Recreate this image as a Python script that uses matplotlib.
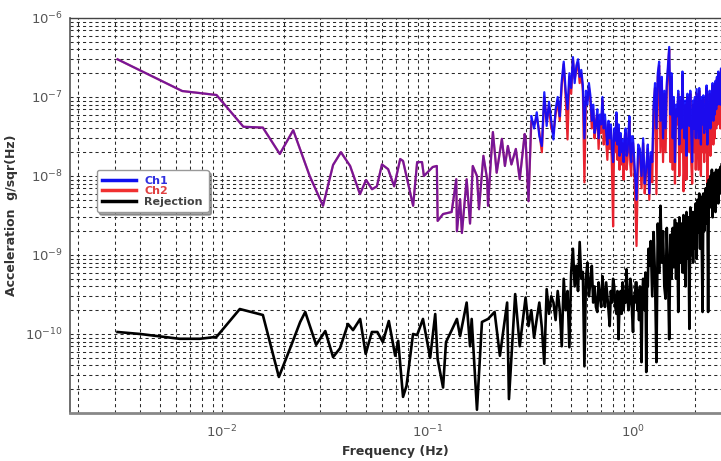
import numpy as np
import matplotlib
matplotlib.use("Agg")
import matplotlib.pyplot as plt
from matplotlib.lines import Line2D
from matplotlib.ticker import LogLocator, NullFormatter

plt.rcParams['mathtext.default'] = 'regular'

# ---- data ----
# Ch1 / Ch2 : low frequency part (both channels coincide)
f_ch_low = [0.0031, 0.0064, 0.0094, 0.0127, 0.0158, 0.0191, 0.0222, 0.0267, 0.0310,
            0.0347, 0.0379, 0.0420, 0.0469, 0.0502, 0.0537, 0.0567, 0.0600, 0.0643,
            0.0688, 0.0736, 0.0760, 0.0851, 0.0890, 0.0940, 0.0960, 0.1060, 0.1110,
            0.1120, 0.1190, 0.1310, 0.1380, 0.1390, 0.1440, 0.1470, 0.1550, 0.1610,
            0.1660, 0.1740, 0.1780, 0.1870, 0.1950, 0.1970, 0.2040, 0.2080, 0.2170,
            0.2300, 0.2380, 0.2460, 0.2560, 0.2690, 0.2810, 0.2970, 0.3000, 0.3100]
ch_low = [3.0e-7, 1.19e-7, 1.06e-7, 4.2e-8, 4.1e-8, 1.9e-8, 3.8e-8, 1.0e-8, 4.2e-9,
          1.38e-8, 2.0e-8, 1.34e-8, 5.9e-9, 8.9e-9, 6.8e-9, 7.4e-9, 1.4e-8, 1.22e-8,
          7.4e-9, 1.64e-8, 1.55e-8, 4.2e-9, 1.5e-8, 1.5e-8, 1.0e-8, 1.3e-8, 1.34e-8,
          2.7e-9, 3.3e-9, 3.5e-9, 9.1e-9, 2.0e-9, 5.1e-9, 1.9e-9, 9.1e-9, 2.5e-9,
          1.34e-8, 1.0e-8, 3.8e-9, 1.8e-8, 9.1e-9, 4.2e-9, 1.8e-8, 3.6e-8, 1.1e-8,
          2.95e-8, 1.34e-8, 2.4e-8, 1.4e-8, 2.2e-8, 9.1e-9, 3.4e-8, 2.95e-8, 4.8e-9]

# high frequency part (dense, channels differ)
f_ch_high = [0.32, 0.33, 0.34, 0.35, 0.36, 0.37, 0.38, 0.39, 0.40, 0.41,
             0.42, 0.43, 0.44, 0.45, 0.46, 0.47, 0.48, 0.49, 0.50, 0.51,
             0.52, 0.53, 0.54, 0.55, 0.56, 0.57, 0.58, 0.59, 0.60, 0.61,
             0.62, 0.63, 0.64, 0.65, 0.66, 0.67, 0.68, 0.69, 0.70, 0.71,
             0.72, 0.73, 0.74, 0.75, 0.76, 0.77, 0.78, 0.79, 0.80, 0.81,
             0.82, 0.83, 0.84, 0.85, 0.86, 0.87, 0.88, 0.89, 0.90, 0.91,
             0.92, 0.93, 0.94, 0.95, 0.96, 0.97, 0.98, 0.99,
             1.00, 1.02, 1.04, 1.06, 1.08, 1.10, 1.12, 1.14, 1.16, 1.18,
             1.20, 1.22, 1.24, 1.26, 1.28, 1.30, 1.32, 1.34, 1.36, 1.38,
             1.40, 1.42, 1.44, 1.46, 1.48, 1.50, 1.52, 1.54, 1.56, 1.58,
             1.60, 1.62, 1.64, 1.66, 1.68, 1.70, 1.72, 1.74, 1.76, 1.78,
             1.80, 1.82, 1.84, 1.86, 1.88, 1.90, 1.92, 1.94, 1.96, 1.98,
             2.00, 2.02, 2.04, 2.06, 2.08, 2.10, 2.12, 2.14, 2.16, 2.18,
             2.20, 2.22, 2.24, 2.26, 2.28, 2.30, 2.32, 2.34, 2.36, 2.38,
             2.40, 2.42, 2.44, 2.46, 2.48, 2.50, 2.52, 2.54, 2.56, 2.58,
             2.60, 2.62, 2.64, 2.66, 2.68, 2.70]
ch1_high = [5.7e-8, 4.0e-8, 6.4e-8, 3.2e-8, 2.4e-8, 1.15e-7, 4.3e-8, 8.7e-8, 5.0e-8, 2.9e-8,
            7.0e-8, 1.0e-7, 5.7e-8, 1.6e-7, 2.8e-7, 1.2e-7, 7.0e-8, 2.0e-7, 1.3e-7, 3.2e-7,
            1.5e-7, 2.5e-7, 3.0e-7, 1.8e-7, 2.2e-7, 1.4e-7, 3.0e-8, 1.2e-7, 8.0e-8, 1.5e-7,
            1.05e-7, 5.0e-8, 8.0e-8, 3.5e-8, 4.3e-8, 7.0e-8, 3.0e-8, 6.0e-8, 4.5e-8, 1.0e-7,
            4.0e-8, 6.0e-8, 3.6e-8, 2.5e-8, 5.0e-8, 3.0e-8, 4.5e-8, 2.2e-8, 1.5e-8, 4.0e-8,
            2.8e-8, 6.4e-8, 2.5e-8, 4.5e-8, 1.8e-8, 3.5e-8, 2.0e-8, 2.9e-8, 1.5e-8, 3.0e-8,
            4.0e-8, 1.8e-8, 2.0e-8, 3.5e-8, 5.7e-8, 2.0e-8, 1.5e-8, 3.2e-8,
            3.0e-8, 1.2e-8, 5.0e-9, 2.5e-8, 2.2e-8, 1.0e-8, 3.0e-8, 8.0e-9, 1.3e-8, 2.5e-8,
            6.0e-9, 2.0e-8, 1.5e-8, 8.0e-8, 1.5e-7, 4.0e-8, 2.0e-7, 2.8e-7, 5.0e-8, 1.8e-7,
            3.0e-8, 1.2e-7, 4.0e-8, 1.5e-7, 2.5e-7, 4.3e-7, 6.0e-8, 2.0e-7, 3.0e-8, 1.0e-7,
            1.5e-8, 8.0e-8, 5.7e-8, 1.2e-7, 2.5e-8, 1.0e-7, 4.0e-8, 2.1e-7, 6.0e-8, 3.0e-8,
            9.0e-8, 1.8e-8, 1.1e-7, 5.0e-8, 4.3e-8, 1.2e-7, 3.5e-8, 1.5e-8, 9.0e-8, 4.0e-8,
            1.0e-7, 3.0e-8, 1.26e-7, 6.0e-8, 3.0e-8, 1.3e-7, 5.0e-8, 2.5e-8, 1.0e-7, 4.5e-8,
            1.05e-7, 3.5e-8, 8.0e-8, 4.0e-8, 1.4e-7, 2.5e-8, 9.0e-8, 5.0e-8, 1.2e-7, 4.0e-8,
            1.1e-7, 6.0e-8, 1.5e-7, 5.0e-8, 1.3e-7, 6.0e-8, 1.6e-7, 7.0e-8, 1.8e-7, 8.0e-8,
            2.1e-7, 9.0e-8, 2.0e-7, 8.0e-8, 2.3e-7, 1.5e-7]
ch2_high = [5.0e-8, 4.5e-8, 5.5e-8, 3.6e-8, 2.0e-8, 1.0e-7, 5.0e-8, 7.5e-8, 4.0e-8, 3.5e-8,
            6.0e-8, 9.0e-8, 5.0e-8, 1.4e-7, 2.6e-7, 1.0e-7, 2.9e-8, 1.8e-7, 1.1e-7, 3.0e-7,
            1.7e-7, 2.2e-7, 2.7e-7, 1.5e-7, 2.0e-7, 1.2e-7, 8.3e-9, 1.0e-7, 9.0e-8, 1.3e-7,
            9.0e-8, 4.0e-8, 7.0e-8, 3.0e-8, 5.0e-8, 6.0e-8, 2.2e-8, 5.0e-8, 3.5e-8, 9.0e-8,
            2.5e-8, 5.0e-8, 2.8e-8, 1.6e-8, 4.5e-8, 2.2e-8, 4.0e-8, 1.2e-8, 2.3e-9, 3.5e-8,
            2.0e-8, 6.0e-8, 1.6e-8, 4.0e-8, 1.2e-8, 3.2e-8, 1.4e-8, 2.6e-8, 9.0e-9, 2.5e-8,
            3.5e-8, 1.2e-8, 1.6e-8, 3.0e-8, 5.0e-8, 1.4e-8, 1.0e-8, 2.6e-8,
            2.6e-8, 8.0e-9, 1.3e-9, 2.2e-8, 1.8e-8, 7.0e-9, 2.6e-8, 6.0e-9, 1.1e-8, 2.2e-8,
            5.0e-9, 1.8e-8, 8.3e-9, 7.0e-8, 1.3e-7, 5.9e-9, 1.8e-7, 2.5e-7, 2.0e-8, 1.6e-7,
            1.5e-8, 1.1e-7, 2.0e-8, 1.3e-7, 2.2e-7, 4.0e-7, 1.5e-8, 1.8e-7, 1.2e-8, 9.0e-8,
            8.0e-9, 7.0e-8, 4.5e-8, 1.1e-7, 1.0e-8, 9.0e-8, 2.0e-8, 1.9e-7, 6.4e-9, 1.5e-8,
            8.0e-8, 9.0e-9, 1.0e-7, 3.0e-8, 2.0e-8, 1.1e-7, 1.5e-8, 8.0e-9, 8.0e-8, 2.0e-8,
            9.0e-8, 1.2e-8, 1.1e-7, 3.5e-8, 1.2e-8, 1.2e-7, 2.5e-8, 1.0e-8, 9.0e-8, 2.0e-8,
            9.5e-8, 1.5e-8, 7.0e-8, 2.0e-8, 1.3e-7, 7.5e-9, 8.0e-8, 2.5e-8, 1.1e-7, 1.8e-8,
            1.0e-7, 3.0e-8, 1.4e-7, 2.5e-8, 1.2e-7, 3.0e-8, 1.5e-7, 4.0e-8, 1.7e-7, 4.5e-8,
            2.0e-7, 5.0e-8, 1.8e-7, 4.0e-8, 2.2e-7, 1.2e-7]

# Rejection
f_rej = [0.0031, 0.0040, 0.0052, 0.0062, 0.0078, 0.0094, 0.0122, 0.0158, 0.0189, 0.0214,
         0.0240, 0.0254, 0.0287, 0.0318, 0.0347, 0.0375, 0.0410, 0.0434, 0.0470, 0.0500,
         0.0536, 0.0570, 0.0606, 0.0648, 0.0696, 0.0720, 0.0760, 0.0790, 0.0850, 0.0890,
         0.0950, 0.1030, 0.1090, 0.1120, 0.1190, 0.1230, 0.1320, 0.1390, 0.1440, 0.1550,
         0.1610, 0.1640, 0.1740, 0.1840, 0.1970, 0.2120, 0.2250, 0.2440, 0.2490, 0.2670,
         0.2810,
         0.30, 0.31, 0.32, 0.33, 0.34, 0.35, 0.36, 0.37, 0.38, 0.39,
         0.40, 0.41, 0.42, 0.43, 0.44, 0.45, 0.46, 0.47, 0.48, 0.49,
         0.50, 0.51, 0.52, 0.53, 0.54, 0.55, 0.56, 0.57, 0.58, 0.59,
         0.60, 0.61, 0.62, 0.63, 0.64, 0.65, 0.66, 0.67, 0.68, 0.69,
         0.70, 0.71, 0.72, 0.73, 0.74, 0.75, 0.76, 0.77, 0.78, 0.79,
         0.80, 0.81, 0.82, 0.83, 0.84, 0.85, 0.86, 0.87, 0.88, 0.89,
         0.90, 0.91, 0.92, 0.93, 0.94, 0.95, 0.96, 0.97, 0.98, 0.99,
         1.00, 1.01, 1.02, 1.03, 1.04, 1.05, 1.06, 1.07, 1.08, 1.09,
         1.10, 1.11, 1.12, 1.13, 1.14, 1.15, 1.16, 1.17, 1.18, 1.19,
         1.20,
         1.22, 1.24, 1.26, 1.28, 1.30, 1.32, 1.34, 1.36, 1.38, 1.40,
         1.42, 1.44, 1.46, 1.48, 1.50, 1.52, 1.54, 1.56, 1.58, 1.60,
         1.62, 1.64, 1.66, 1.68, 1.70, 1.72, 1.74, 1.76, 1.78, 1.80,
         1.82, 1.84, 1.86, 1.88, 1.90, 1.92, 1.94, 1.96, 1.98, 2.00,
         2.02, 2.04, 2.06, 2.08, 2.10, 2.12, 2.14, 2.16, 2.18, 2.20,
         2.22, 2.24, 2.26, 2.28, 2.30, 2.32, 2.34, 2.36, 2.38, 2.40,
         2.42, 2.44, 2.46, 2.48, 2.50, 2.52, 2.54, 2.56, 2.58, 2.60,
         2.62, 2.64, 2.66, 2.68, 2.70]
rej = [1.06e-10, 1.0e-10, 9.2e-11, 8.7e-11, 8.7e-11, 9.2e-11, 2.07e-10, 1.74e-10, 2.86e-11, 6.5e-11,
       1.42e-10, 1.9e-10, 7.3e-11, 1.09e-10, 5.1e-11, 6.6e-11, 1.34e-10, 1.12e-10, 1.55e-10, 5.6e-11,
       1.06e-10, 1.06e-10, 7.9e-11, 1.46e-10, 5.3e-11, 8.2e-11, 1.6e-11, 2.2e-11, 1.0e-10, 9.7e-11,
       1.55e-10, 5.0e-11, 1.79e-10, 4.8e-11, 2.1e-11, 7.9e-11, 1.16e-10, 1.55e-10, 9.4e-11, 2.5e-10,
       7.0e-11, 1.55e-10, 1.1e-11, 1.42e-10, 1.55e-10, 1.9e-10, 5.3e-11, 2.5e-10, 1.5e-11, 3.2e-10,
       7.0e-11,
       2.9e-10, 1.26e-10, 2.0e-10, 9.0e-11, 1.55e-10, 2.5e-10, 1.2e-10, 4.2e-11, 3.7e-10, 1.8e-10,
       3.0e-10, 2.5e-10, 1.5e-10, 3.5e-10, 2.0e-10, 7.0e-11, 5.0e-10, 2.0e-10, 3.5e-10, 6.8e-11,
       6.0e-10, 1.2e-9, 4.0e-10, 7.3e-10, 3.5e-10, 1.46e-9, 5.0e-10, 6.1e-10, 3.9e-11, 5.0e-10,
       8.0e-10, 3.0e-10, 4.5e-10, 7.3e-10, 2.5e-10, 4.0e-10, 2.2e-10, 1.9e-10, 4.5e-10, 3.0e-10,
       2.2e-10, 5.4e-10, 3.0e-10, 2.2e-10, 4.5e-10, 3.0e-10, 2.0e-10, 1.26e-10, 3.5e-10, 2.5e-10,
       5.0e-10, 4.0e-10, 2.2e-10, 1.8e-10, 3.5e-10, 8.6e-11, 2.5e-10, 3.5e-10, 1.8e-10, 4.5e-10,
       2.0e-10, 3.5e-10, 2.5e-10, 6.6e-10, 3.0e-10, 2.0e-10, 2.5e-10, 5.0e-10, 4.0e-10, 1.8e-10,
       1.06e-10, 3.0e-10, 2.5e-10, 4.5e-10, 4.5e-10, 2.0e-10, 3.5e-10, 1.5e-10, 4.0e-10, 2.5e-10,
       4.4e-11, 3.0e-10, 5.0e-10, 3.5e-10, 2.0e-10, 6.0e-10, 3.3e-11, 5.0e-10, 4.0e-10, 1.2e-9,
       7.3e-10,
       1.5e-9, 3.0e-10, 1.95e-9, 5.0e-10, 4.4e-11, 2.5e-9, 6.0e-10, 4.2e-9, 8.0e-10, 2.0e-9,
       4.0e-10, 2.8e-10, 2.2e-9, 6.0e-10, 8.6e-11, 1.8e-9, 5.0e-10, 2.2e-9, 7.0e-10, 2.8e-9,
       5.0e-10, 2.5e-9, 1.9e-10, 3.0e-9, 8.0e-10, 2.5e-9, 6.0e-10, 3.2e-9, 1.46e-9, 4.0e-10,
       3.5e-9, 9.0e-10, 3.0e-9, 1.16e-10, 4.0e-9, 1.0e-9, 3.5e-9, 8.0e-10, 3.5e-9, 1.2e-9,
       4.5e-9, 9.0e-10, 5.0e-9, 1.95e-9, 6.0e-9, 1.2e-9, 5.5e-9, 1.5e-9, 1.9e-10, 6.0e-9,
       2.0e-9, 4.2e-9, 7.0e-9, 2.5e-9, 8.0e-9, 1.9e-10, 9.0e-9, 5.1e-9, 1.0e-8, 4.0e-9,
       1.2e-8, 3.0e-9, 1.0e-8, 4.0e-9, 1.1e-8, 3.5e-9, 1.2e-8, 5.0e-9, 1.0e-8, 4.5e-9,
       1.2e-8, 6.0e-9, 1.3e-8, 7.0e-9, 1.4e-8]

f_ch = f_ch_low + f_ch_high
ch1 = ch_low + ch1_high
ch2 = ch_low + ch2_high
n_low = len(f_ch_low)

col_ch1 = "#0a0aff"
col_ch2 = "#e8222e"

fig = plt.figure(figsize=(7.21, 4.61), dpi=100)
ax = fig.add_axes([70/721, 48/461, 651/721, 395/461])

ax.loglog(f_ch, ch2, color=col_ch2, lw=1.6, zorder=3)
# low part: both channels blend into purple, dense part: blue dominates
ax.loglog(f_ch[:n_low + 1], ch1[:n_low + 1], color=col_ch1, lw=1.6, alpha=0.5, zorder=4)
ax.loglog(f_ch[n_low:], ch1[n_low:], color=col_ch1, lw=1.6, alpha=0.92, zorder=4)
ax.loglog(f_rej, rej, color="black", lw=1.9, zorder=5)

ax.set_xlim(0.00182, 2.68)
ax.set_ylim(1e-11, 1e-6)

ax.xaxis.set_minor_locator(LogLocator(base=10, subs=np.arange(2, 10), numticks=20))
ax.yaxis.set_minor_locator(LogLocator(base=10, subs=np.arange(2, 10), numticks=20))
ax.xaxis.set_minor_formatter(NullFormatter())
ax.yaxis.set_minor_formatter(NullFormatter())
ax.set_yticks([1e-10, 1e-9, 1e-8, 1e-7, 1e-6])
ax.set_yticklabels([r"$10^{-10}$", r"$10^{-9}$", r"$10^{-8}$", r"$10^{-7}$", r"$10^{-6}$"])
ax.set_xticks([1e-2, 1e-1, 1e0])
ax.set_xticklabels([r"$10^{-2}$", r"$10^{-1}$", r"$10^{0}$"])

ax.grid(True, which="both", color="#2a2a2a", ls=(0, (3, 3)), lw=0.75)
ax.tick_params(which="both", length=0, labelsize=9.5, labelcolor="#555555")
ax.tick_params(axis="x", pad=8)
ax.tick_params(axis="y", pad=5)

ax.spines["right"].set_visible(False)
ax.spines["top"].set_color("#444444")
ax.spines["top"].set_linewidth(1.0)
ax.spines["left"].set_color("#555555")
ax.spines["bottom"].set_color("#888888")
ax.spines["left"].set_linewidth(1.2)
ax.spines["bottom"].set_linewidth(2.0)

ax.set_xlabel("Frequency (Hz)", fontsize=9, fontweight="bold", color="#333333", labelpad=3)
ax.set_ylabel("Acceleration  g/sqr(Hz)", fontsize=9, fontweight="bold", color="#333333", labelpad=5)

handles = [Line2D([], [], color="#1010f0", lw=2.5),
           Line2D([], [], color="#f03030", lw=2.5),
           Line2D([], [], color="black", lw=2.5)]
leg = ax.legend(handles, ["Ch1", "Ch2", "Rejection"], loc="upper left",
                bbox_to_anchor=(0.041, 0.615), borderaxespad=0, fancybox=True, shadow=True,
                prop={"weight": "bold", "size": 8}, handlelength=3.0, labelspacing=0.05,
                borderpad=0.5, handletextpad=0.8, framealpha=1, edgecolor="#999999")
for t, c in zip(leg.get_texts(), ["#3030e0", "#e04040", "#444444"]):
    t.set_color(c)
leg.set_zorder(10)

fig.savefig("out.png", dpi=100)
